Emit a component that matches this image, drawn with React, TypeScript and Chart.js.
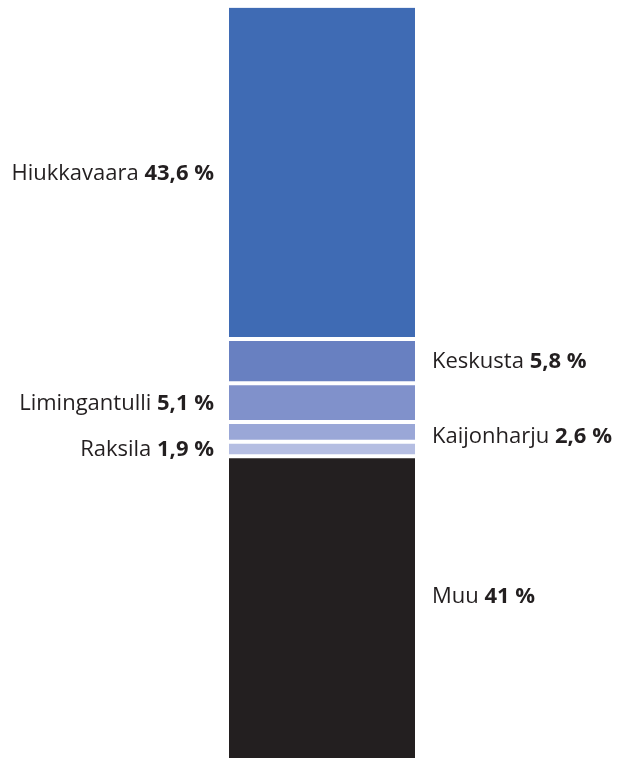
import React, { useEffect, useRef } from "react";
import { Chart, registerables } from "chart.js";

Chart.register(...registerables);

const areas = ["Hiukkavaara", "Keskusta", "Limingantulli", "Kaijonharju", "Raksila", "Muu"];
const shares = [43.6, 5.8, 5.1, 2.6, 1.9, 41];
const valueLabels = ["43,6 %", "5,8 %", "5,1 %", "2,6 %", "1,9 %", "41 %"];
const colors = ["#3f6bb4", "#6880c1", "#8091cb", "#9aa7d7", "#b5bee2", "#231f20"];
const labelSides = ["left", "right", "left", "right", "left", "right"];
const labelShift = [0, 0, 0, 4, 0, -16];

const FONT_FAMILY = '"Open Sans", "Noto Sans", sans-serif';
const FONT_SIZE = 22;
const TEXT_COLOR = "#231f20";

const labelPlugin = {
  id: "segmentLabels",
  afterDatasetsDraw(chart: any) {
    const ctx = chart.ctx as CanvasRenderingContext2D;
    ctx.save();
    ctx.textBaseline = "alphabetic";
    ctx.textAlign = "left";
    ctx.fillStyle = TEXT_COLOR;
    chart.data.datasets.forEach((ds: any, i: number) => {
      const meta = chart.getDatasetMeta(i);
      const el: any = meta.data[0];
      if (!el) return;
      const top = Math.min(el.y, el.base);
      const bottom = Math.max(el.y, el.base);
      const center = (top + bottom) / 2 + labelShift[i];
      const baseline = center + 7;
      const name = areas[i] + " ";
      const val = valueLabels[i];
      ctx.font = `400 ${FONT_SIZE}px ${FONT_FAMILY}`;
      const wName = ctx.measureText(name).width;
      ctx.font = `700 ${FONT_SIZE}px ${FONT_FAMILY}`;
      const wVal = ctx.measureText(val).width;
      const left = el.x - el.width / 2;
      const right = el.x + el.width / 2;
      let x: number;
      if (labelSides[i] === "left") {
        x = left - 15 - (wName + wVal);
      } else {
        x = right + 17;
      }
      ctx.font = `400 ${FONT_SIZE}px ${FONT_FAMILY}`;
      ctx.fillText(name, x, baseline);
      ctx.font = `700 ${FONT_SIZE}px ${FONT_FAMILY}`;
      ctx.fillText(val, x + wName, baseline);
    });
    ctx.restore();
  },
};

export default function App() {
  const canvasRef = useRef<HTMLCanvasElement | null>(null);

  useEffect(() => {
    if (!canvasRef.current) return;
    const chart = new Chart(canvasRef.current, {
      type: "bar",
      data: {
        labels: [""],
        datasets: areas.map((a, i) => ({
          label: a,
          data: [shares[i]],
          backgroundColor: colors[i],
          borderColor: "#ffffff",
          borderWidth:
            i === 0
              ? { top: 0, bottom: 2, left: 0, right: 0 }
              : { top: 2, bottom: 2, left: 0, right: 0 },
          borderSkipped: false,
          barThickness: 186,
          inflateAmount: 0,
        })),
      },
      options: {
        responsive: true,
        maintainAspectRatio: false,
        animation: false,
        layout: { padding: { left: 16, right: 0, top: 7.5, bottom: 0 } },
        scales: {
          x: { stacked: true, display: false },
          y: { stacked: true, reverse: true, min: 0, max: 100, display: false },
        },
        plugins: {
          legend: { display: false },
          tooltip: { enabled: false },
        },
      },
      plugins: [labelPlugin],
    });
    return () => chart.destroy();
  }, []);

  return (
    <div
      style={{
        position: "absolute",
        left: 0,
        top: 0,
        width: 628,
        height: 758,
        overflow: "hidden",
        background: "#ffffff",
      }}
    >
      <div style={{ position: "relative", width: 628, height: 768 }}>
        <canvas ref={canvasRef} />
      </div>
    </div>
  );
}
